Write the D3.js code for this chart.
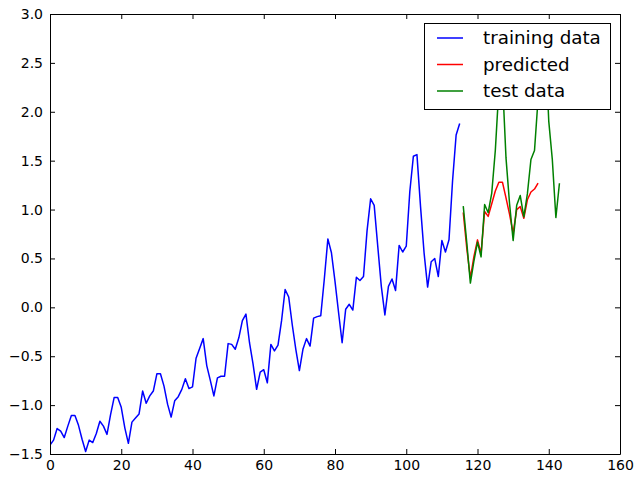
<!DOCTYPE html>
<html>
<head>
<meta charset="utf-8">
<script src="https://cdn.jsdelivr.net/npm/d3@7"></script>
<style>
  html, body { margin: 0; padding: 0; background: #fff; }
  svg { display: block; }
  text { font-family: "DejaVu Sans", sans-serif; }
</style>
</head>
<body>
<svg id="chart" width="635" height="478"></svg>
<script>
// ---- data (standardised airline-passenger series) ----
const trainingData = [
  -1.408, -1.358, -1.240, -1.266, -1.332, -1.215, -1.107, -1.107, -1.207, -1.349, -1.475, -1.358,
  -1.383, -1.291, -1.165, -1.215, -1.299, -1.098, -0.923, -0.923, -1.023, -1.232, -1.391, -1.174,
  -1.132, -1.090, -0.856, -0.981, -0.906, -0.856, -0.680, -0.680, -0.806, -0.990, -1.123, -0.956,
  -0.914, -0.839, -0.730, -0.831, -0.814, -0.521, -0.421, -0.320, -0.596, -0.747, -0.906, -0.722,
  -0.705, -0.705, -0.371, -0.379, -0.429, -0.312, -0.136, -0.069, -0.362, -0.580, -0.839, -0.663,
  -0.638, -0.772, -0.379, -0.446, -0.387, -0.136, 0.182, 0.106, -0.178, -0.429, -0.647, -0.429,
  -0.320, -0.396, -0.111, -0.095, -0.086, 0.290, 0.700, 0.558, 0.265, -0.053, -0.362, -0.019,
  0.031, -0.028, 0.307, 0.274, 0.315, 0.784, 1.110, 1.043, 0.625, 0.215, -0.078, 0.215,
  0.290, 0.173, 0.633, 0.566, 0.625, 1.185, 1.545, 1.562, 1.035, 0.558, 0.207, 0.466,
  0.499, 0.315, 0.683, 0.566, 0.692, 1.294, 1.762, 1.880
];
const trainingStart = 0;

const testData = [
  1.035, 0.658, 0.248, 0.474, 0.667, 0.516, 1.051, 0.968, 1.169, 1.604, 2.239, 2.331,
  1.528, 1.060, 0.683, 1.043, 1.143, 0.926, 1.160, 1.512, 1.604, 2.130, 2.858, 2.724,
  1.905, 1.512, 0.918, 1.269
];
const testStart = 116;

const predictedData = [
  0.97, 0.60, 0.30, 0.52, 0.69, 0.55, 0.98, 0.93, 1.06, 1.19, 1.28, 1.28,
  1.12, 0.95, 0.76, 1.00, 1.03, 0.91, 1.10, 1.18, 1.21, 1.27
];
const predictedStart = 116;

const xTicks = [0, 20, 40, 60, 80, 100, 120, 140, 160];
const yTicks = [-1.5, -1.0, -0.5, 0.0, 0.5, 1.0, 1.5, 2.0, 2.5, 3.0];
const legendLabels = ["training data", "predicted", "test data"];
const seriesColors = ["#0000ff", "#ff0000", "#008000"];

// ---- layout ----
const L = 50, R = 620, T = 14, B = 454;
const svg = d3.select("#chart");

const x = d3.scaleLinear().domain([0, 160]).range([L, R]);
const y = d3.scaleLinear().domain([-1.5, 3.0]).range([B, T]);

const toPoints = (arr, start) => arr.map((v, i) => [start + i, v]);
const line = d3.line().x(d => x(d[0])).y(d => y(d[1]));

const series = [
  toPoints(trainingData, trainingStart),
  toPoints(predictedData, predictedStart),
  toPoints(testData, testStart)
];

svg.append("defs").append("clipPath").attr("id", "clip")
  .append("rect").attr("x", L).attr("y", T).attr("width", R - L).attr("height", B - T);

const plot = svg.append("g").attr("clip-path", "url(#clip)");
series.forEach((s, i) => {
  plot.append("path")
    .datum(s)
    .attr("d", line)
    .attr("fill", "none")
    .attr("stroke", seriesColors[i])
    .attr("stroke-width", 1.5)
    .attr("stroke-linejoin", "round");
});

// ---- axes (ticks inside, on all four sides) ----
const fmt = d3.format(".1f");
function styleAxis(g) {
  g.selectAll(".domain").attr("stroke", "#000").attr("stroke-width", 1);
  g.selectAll(".tick line").attr("stroke", "#000").attr("stroke-width", 1);
  g.selectAll("text").attr("fill", "#000").style("font-size", "14px")
    .style("font-family", '"DejaVu Sans", sans-serif');
}

svg.append("g").attr("transform", `translate(0,${B})`)
  .call(d3.axisBottom(x).tickValues(xTicks).tickFormat(d3.format("d"))
    .tickSizeInner(-5).tickSizeOuter(0).tickPadding(6))
  .call(styleAxis);

svg.append("g").attr("transform", `translate(0,${T})`)
  .call(d3.axisTop(x).tickValues(xTicks).tickFormat("")
    .tickSizeInner(-5).tickSizeOuter(0))
  .call(styleAxis);

svg.append("g").attr("transform", `translate(${L},0)`)
  .call(d3.axisLeft(y).tickValues(yTicks).tickFormat(fmt)
    .tickSizeInner(-5).tickSizeOuter(0).tickPadding(7))
  .call(styleAxis);

svg.append("g").attr("transform", `translate(${R},0)`)
  .call(d3.axisRight(y).tickValues(yTicks).tickFormat("")
    .tickSizeInner(-5).tickSizeOuter(0))
  .call(styleAxis);

// ---- legend ----
const lg = svg.append("g");
lg.append("rect")
  .attr("x", 424.5).attr("y", 23.5).attr("width", 186).attr("height", 86)
  .attr("fill", "#fff").attr("stroke", "#000").attr("stroke-width", 1);
legendLabels.forEach((lab, i) => {
  const ly = 38 + i * 26.5;
  lg.append("line")
    .attr("x1", 437).attr("x2", 463).attr("y1", ly).attr("y2", ly)
    .attr("stroke", seriesColors[i]).attr("stroke-width", 1.5);
  lg.append("text")
    .attr("x", 483).attr("y", ly).attr("dy", "0.35em")
    .style("font-size", "18.3px").attr("fill", "#000")
    .text(lab);
});
</script>
</body>
</html>
